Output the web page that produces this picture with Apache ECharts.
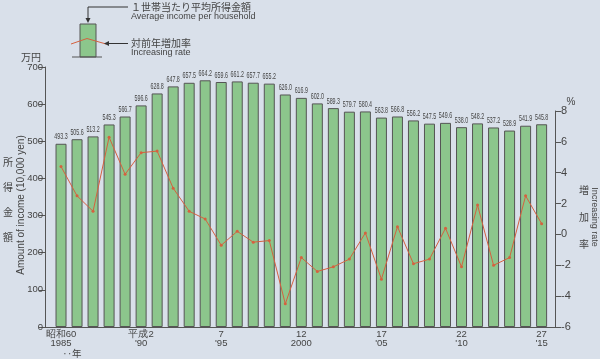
<!DOCTYPE html>
<html>
<head>
<meta charset="utf-8">
<script src="https://cdn.jsdelivr.net/npm/echarts@6/dist/echarts.min.js"></script>
<style>
html,body{margin:0;padding:0;background:#d9e0ea;}
#c{width:600px;height:359px;}
</style>
</head>
<body>
<div id="c"></div>
<script>
var years = [1985,1986,1987,1988,1989,1990,1991,1992,1993,1994,1995,1996,1997,1998,1999,2000,2001,2002,2003,2004,2005,2006,2007,2008,2009,2010,2011,2012,2013,2014,2015];
var income = [493.3,505.6,513.2,545.3,566.7,596.6,628.8,647.8,657.5,664.2,659.6,661.2,657.7,655.2,626.0,616.9,602.0,589.3,579.7,580.4,563.8,566.8,556.2,547.5,549.6,538.0,548.2,537.2,528.9,541.9,545.8];
var rate = [4.4,2.5,1.5,6.3,3.9,5.3,5.4,3.0,1.5,1.0,-0.7,0.2,-0.5,-0.4,-4.5,-1.5,-2.4,-2.1,-1.6,0.1,-2.9,0.5,-1.9,-1.6,0.4,-2.1,1.9,-2.0,-1.5,2.5,0.7];
var tickYears = [1985,1990,1995,2000,2005,2010,2015];
var tickEra = ['昭和60','平成2','7','12','17','22','27'];
var tickWestern = ['1985',"'90","'95",'2000',"'05","'10","'15"];

var GREEN = '#8cc68c', EDGE = '#555', RED = '#d5613f', TXT = '#444';
var FONT = "'Liberation Sans', Arial, sans-serif";
var NARROW = "'Liberation Sans Narrow', 'DejaVu Sans Condensed', 'Liberation Sans', sans-serif";
var JP = "'Noto Sans CJK JP', sans-serif";

var barData = years.map(function(y,i){return [y, income[i]];});
var rateData = years.map(function(y,i){return [y, rate[i]];});

var chart = echarts.init(document.getElementById('c'));
chart.setOption({
  backgroundColor: '#d9e0ea',
  animation: false,
  grid: [
    {left:45, right:45, top:67, bottom:32},
    {left:45, right:45, top:111, bottom:32}
  ],
  xAxis: [
    {type:'value', gridIndex:0, min:1984, max:2015.835,
     splitLine:{show:false},
     axisLine:{show:true, lineStyle:{color:EDGE, width:1}},
     axisTick:{show:false},
     axisLabel:{customValues:tickYears, margin:3, color:TXT, fontSize:9.5, lineHeight:9, fontFamily:FONT,
       formatter:function(v){var k=tickYears.indexOf(Math.round(v)); return k<0?'':tickEra[k]+'\n'+tickWestern[k];}}},
    {type:'value', gridIndex:1, min:1984, max:2015.835, show:false}
  ],
  yAxis: [
    {type:'value', gridIndex:0, min:0, max:700, interval:100,
     splitLine:{show:false},
     axisLine:{show:true, lineStyle:{color:EDGE}},
     axisTick:{show:true, length:6, lineStyle:{color:EDGE}},
     axisLabel:{color:TXT, fontSize:9.5, margin:2, fontFamily:FONT}},
    {type:'value', gridIndex:1, position:'right', min:-6, max:8, interval:2,
     splitLine:{show:false},
     axisLine:{show:true, lineStyle:{color:EDGE}},
     axisTick:{show:true, length:6, lineStyle:{color:EDGE}},
     axisLabel:{color:TXT, fontSize:11, margin:6, fontFamily:FONT}}
  ],
  series: [
    {type:'bar', xAxisIndex:0, yAxisIndex:0, data:barData, barWidth:11,
     itemStyle:{color:GREEN, borderColor:EDGE, borderWidth:1}},
    {type:'custom', xAxisIndex:0, yAxisIndex:0, data:barData, z:3,
     renderItem:function(params, api){
       var p = api.coord([api.value(0), api.value(1)]);
       return {type:'text', x:p[0], y:p[1]-2, scaleX:0.56, scaleY:1,
         style:{text:api.value(1).toFixed(1), fontSize:9.5, fill:TXT, align:'center', verticalAlign:'bottom', fontFamily:FONT}};
     }},
    {type:'line', xAxisIndex:1, yAxisIndex:1, data:rateData, z:5,
     symbol:'circle', symbolSize:3, showSymbol:true,
     lineStyle:{color:RED, width:1}, itemStyle:{color:RED}}
  ],
  graphic: [
    {type:'rect', shape:{x:80, y:24, width:16, height:33}, style:{fill:GREEN, stroke:EDGE, lineWidth:1}},
    {type:'line', shape:{x1:72, y1:57, x2:102, y2:57}, style:{stroke:EDGE, lineWidth:1}},
    {type:'polyline', shape:{points:[[71,44],[87,38.5],[106,44]]}, style:{stroke:RED, lineWidth:1, fill:null}},
    {type:'polyline', shape:{points:[[128,7],[88,7],[88,20]]}, style:{stroke:'#333', lineWidth:1, fill:null}},
    {type:'polygon', shape:{points:[[85.5,18],[90.5,18],[88,23]]}, style:{fill:'#333'}},
    {type:'line', shape:{x1:128, y1:43.5, x2:107, y2:43.5}, style:{stroke:'#333', lineWidth:1}},
    {type:'polygon', shape:{points:[[104,43.5],[109,41],[109,46]]}, style:{fill:'#333'}},
    {type:'text', x:131, y:7, style:{text:'１世帯当たり平均所得金額', fontSize:10, fill:TXT, fontFamily:JP, verticalAlign:'middle'}},
    {type:'text', x:131, y:17, style:{text:'Average income per household', fontSize:9, fill:TXT, fontFamily:FONT, verticalAlign:'middle'}},
    {type:'text', x:131, y:43.5, style:{text:'対前年増加率', fontSize:10, fill:TXT, fontFamily:JP, verticalAlign:'middle'}},
    {type:'text', x:131, y:53, style:{text:'Increasing rate', fontSize:9, fill:TXT, fontFamily:FONT, verticalAlign:'middle'}},
    {type:'text', x:31, y:57, style:{text:'万円', fontSize:10, fill:TXT, fontFamily:JP, align:'center', verticalAlign:'middle'}},
    {type:'text', x:8, y:200, style:{text:'所\n得\n金\n額', fontSize:10, lineHeight:25, fill:TXT, fontFamily:JP, align:'center', verticalAlign:'middle'}},
    {type:'text', x:21, y:205, rotation:Math.PI/2, style:{text:'Amount of income (10,000 yen)', fontSize:10, fill:TXT, fontFamily:FONT, align:'center', verticalAlign:'middle'}},
    {type:'text', x:571, y:102, style:{text:'%', fontSize:10, fill:TXT, fontFamily:FONT, align:'center', verticalAlign:'middle'}},
    {type:'text', x:584, y:217, style:{text:'増\n加\n率', fontSize:10, lineHeight:27, fill:TXT, fontFamily:JP, align:'center', verticalAlign:'middle'}},
    {type:'text', x:594, y:217, rotation:-Math.PI/2, style:{text:'Increasing rate', fontSize:9, fill:TXT, fontFamily:FONT, align:'center', verticalAlign:'middle'}},
    {type:'text', x:72, y:353, style:{text:'‥年', fontSize:9.5, fill:TXT, fontFamily:JP, align:'center', verticalAlign:'middle'}}
  ]
});
</script>
</body>
</html>
